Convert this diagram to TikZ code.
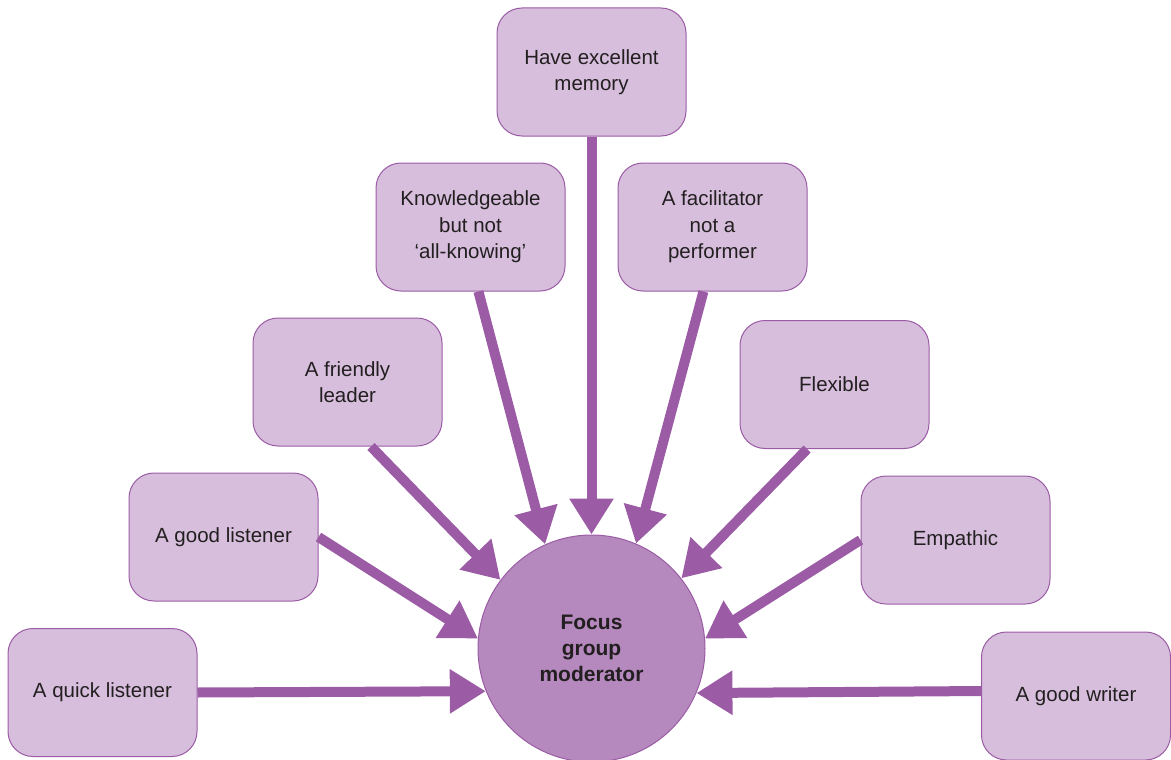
\documentclass[tikz,border=0pt]{standalone}
\usepackage{fontspec}
\setmainfont{Liberation Sans}
\usetikzlibrary{arrows.meta}
\definecolor{boxfill}{HTML}{D6BEDC}
\definecolor{edgepurple}{HTML}{9B5BA5}
\definecolor{hubfill}{HTML}{B589BE}
\definecolor{ink}{HTML}{231F20}

\begin{document}
\begin{tikzpicture}[x=1pt,y=-1pt,
  trait/.style={draw=edgepurple, line width=1pt, fill=boxfill,
    rounded corners=25pt, minimum width=189pt, minimum height=128pt,
    inner sep=0pt, align=center, text=ink,
    font=\fontsize{20.5}{26.5}\selectfont},
  hub/.style={circle, draw=edgepurple, line width=1pt, fill=hubfill,
    minimum size=227pt, inner sep=0pt, align=center, text=ink,
    font=\fontsize{21}{26}\selectfont\bfseries},
  feed/.style={draw=edgepurple, line width=10pt,
    -{Triangle[length=36pt,width=42pt]}}]

\useasboundingbox (0,0) rectangle (1171,760);

% central hub
\node[hub] (c) at (591.5,648.5) {Focus\\group\\moderator};

% surrounding qualities
\node[trait] (ql)  at (102.5,692.5) {A quick listener};
\node[trait] (gl)  at (223.5,537)   {A good listener};
\node[trait] (fl)  at (347.5,382)   {A friendly\\leader};
\node[trait] (kn)  at (470.5,227)   {Knowledgeable\\but not\\`all-knowing'};
\node[trait] (mem) at (591.5,72)    {Have excellent\\memory};
\node[trait] (fa)  at (712.5,227)   {A facilitator\\not a\\performer};
\node[trait] (fx)  at (834.5,384.5) {Flexible};
\node[trait] (em)  at (955.5,540)   {Empathic};
\node[trait] (gw)  at (1076,696)    {A good writer};

% arrows into the hub
\draw[feed] (ql.east)   -- (c.202.8);
\draw[feed] (gl.east)   -- (c.175);
\draw[feed] (fl.-70)    -- (c.143);
\draw[feed] (kn.-83)    -- (c.114);
\draw[feed] (mem.south) -- (c.90);
\draw[feed] (fa.-98)    -- (c.67.5);
\draw[feed] (fx.-113)   -- (c.38.5);
\draw[feed] (em.west)   -- (c.5.3);
\draw[feed] (gw.177.6)  -- (c.337.46);
\end{tikzpicture}
\end{document}
